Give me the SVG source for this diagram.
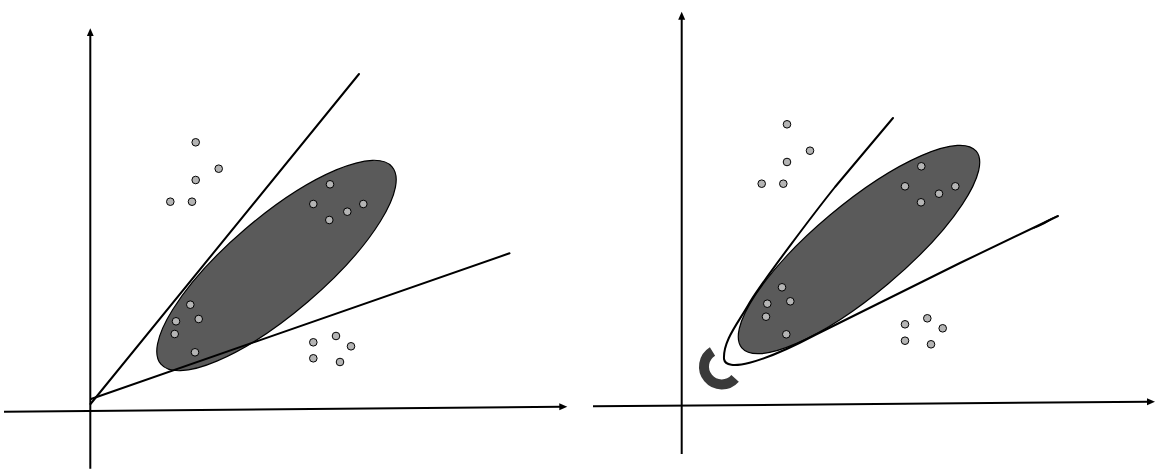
<svg xmlns="http://www.w3.org/2000/svg" width="1156" height="469" viewBox="0 0 1156 469">
  <style>
    .axis { stroke: #000; stroke-width: 2; fill: none; }
    .line { stroke: #000; stroke-width: 2; fill: none; stroke-linecap: round; stroke-linejoin: round; }
    .blob { fill: #5a5a5a; stroke: #000; stroke-width: 1.2; }
    .pt { fill: #b4b4b4; stroke: #000; stroke-width: 1; }
  </style>
  <defs>
    <marker id="ah" markerWidth="9" markerHeight="8" refX="2" refY="3.5" orient="auto" markerUnits="userSpaceOnUse">
      <path d="M0,0 L8,3.5 L0,7 Z" fill="#000"/>
    </marker>
  </defs>
  <rect width="1156" height="469" fill="#fff"/>

  <!-- LEFT PANEL -->
  <g id="left-panel">
    <g id="left-ellipse">
      <ellipse class="blob" cx="276.5" cy="265.5" rx="152" ry="48" transform="rotate(-40.5 276.5 265.5)"/>
    </g>
    <g id="left-connectors">
      <line class="axis" x1="4" y1="411.7" x2="561.3" y2="406.75" marker-end="url(#ah)"/>
      <line class="axis" x1="90.3" y1="468.7" x2="90.3" y2="34.3" marker-end="url(#ah)"/>
      <line class="line" x1="90.5" y1="404" x2="359" y2="74"/>
      <line class="line" x1="91" y1="399" x2="509.5" y2="253.3"/>
    </g>
    <g id="left-points">
      <circle class="pt" cx="195.7" cy="142.3" r="3.8"/>
      <circle class="pt" cx="218.7" cy="168.7" r="3.8"/>
      <circle class="pt" cx="195.7" cy="180" r="3.8"/>
      <circle class="pt" cx="170.3" cy="201.7" r="3.8"/>
      <circle class="pt" cx="192" cy="201.7" r="3.8"/>

      <circle class="pt" cx="330" cy="184.3" r="3.8"/>
      <circle class="pt" cx="313.3" cy="204" r="3.8"/>
      <circle class="pt" cx="363.3" cy="204" r="3.8"/>
      <circle class="pt" cx="347.3" cy="211.7" r="3.8"/>
      <circle class="pt" cx="329.3" cy="220" r="3.8"/>

      <circle class="pt" cx="190.3" cy="304.7" r="3.8"/>
      <circle class="pt" cx="176" cy="321.3" r="3.8"/>
      <circle class="pt" cx="198.7" cy="319" r="3.8"/>
      <circle class="pt" cx="174.7" cy="334" r="3.8"/>
      <circle class="pt" cx="195" cy="352.3" r="3.8"/>

      <circle class="pt" cx="336" cy="336" r="3.8"/>
      <circle class="pt" cx="313.3" cy="342.3" r="3.8"/>
      <circle class="pt" cx="351" cy="346.3" r="3.8"/>
      <circle class="pt" cx="313.3" cy="358.3" r="3.8"/>
      <circle class="pt" cx="340" cy="362" r="3.8"/>
    </g>
  </g>

  <!-- RIGHT PANEL -->
  <g id="right-panel">
    <g id="right-ellipse">
      <ellipse class="blob" cx="859" cy="249.5" rx="153" ry="45" transform="rotate(-40 859 249.5)"/>
    </g>
    <g id="right-connectors">
      <line class="axis" x1="593" y1="406.3" x2="1149" y2="401.75" marker-end="url(#ah)"/>
      <line class="axis" x1="681.7" y1="454" x2="681.7" y2="17.7" marker-end="url(#ah)"/>
      <path class="line" d="M893,118 L835,187 C815,212 765,278 750,302 C739,322 723,340 724,359 C726,372 760,364 815,335 L960,263 L1058,216"/>
      <path d="M1032,229.5 Q1045,220.3 1058,215.3 Q1046,224.8 1032,229.5 Z" fill="#000"/>
    </g>
    <g id="right-hook">
      <path d="M712.5,351.4 A17.8,17.8 0 1 0 735.1,378.4" fill="none" stroke="#3a3a3a" stroke-width="10"/>
    </g>
    <g id="right-points">
      <circle class="pt" cx="787" cy="124.3" r="3.8"/>
      <circle class="pt" cx="810" cy="150.7" r="3.8"/>
      <circle class="pt" cx="787" cy="162" r="3.8"/>
      <circle class="pt" cx="761.7" cy="183.7" r="3.8"/>
      <circle class="pt" cx="783.3" cy="183.7" r="3.8"/>

      <circle class="pt" cx="921.3" cy="166.3" r="3.8"/>
      <circle class="pt" cx="905" cy="186.3" r="3.8"/>
      <circle class="pt" cx="955.3" cy="186.3" r="3.8"/>
      <circle class="pt" cx="939" cy="193.7" r="3.8"/>
      <circle class="pt" cx="921" cy="202.3" r="3.8"/>

      <circle class="pt" cx="782" cy="287.3" r="3.8"/>
      <circle class="pt" cx="767.3" cy="303.7" r="3.8"/>
      <circle class="pt" cx="790.3" cy="301.3" r="3.8"/>
      <circle class="pt" cx="766" cy="316.7" r="3.8"/>
      <circle class="pt" cx="786.3" cy="334.3" r="3.8"/>

      <circle class="pt" cx="927.3" cy="318.3" r="3.8"/>
      <circle class="pt" cx="905" cy="324.3" r="3.8"/>
      <circle class="pt" cx="942.7" cy="328.3" r="3.8"/>
      <circle class="pt" cx="905" cy="340.7" r="3.8"/>
      <circle class="pt" cx="931" cy="344.3" r="3.8"/>
    </g>
  </g>
</svg>
